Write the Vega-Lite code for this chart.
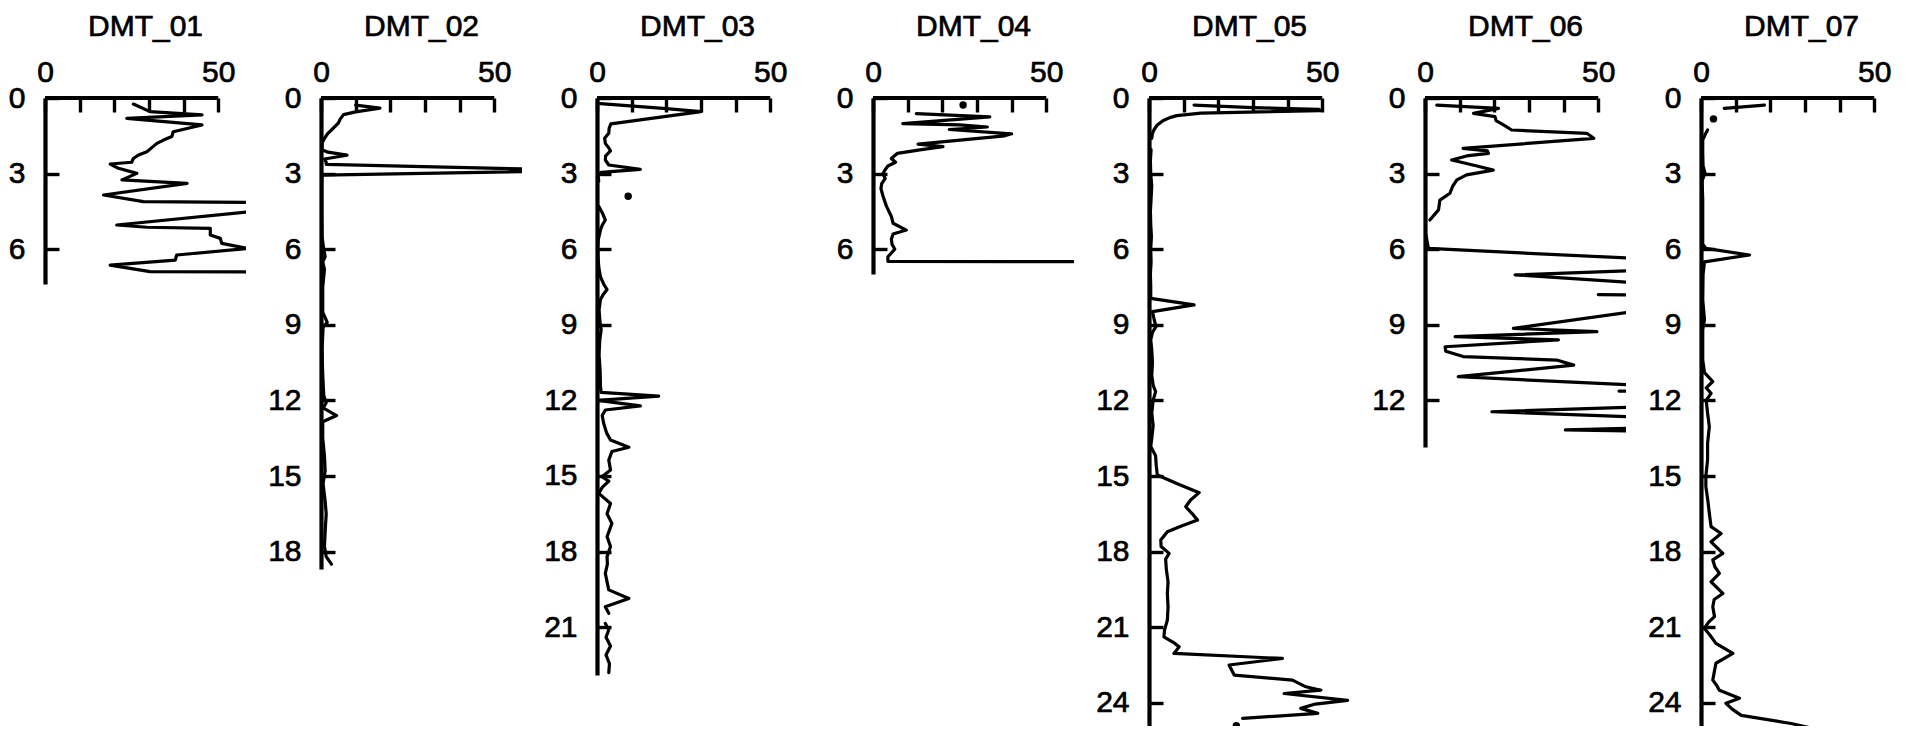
{
  "$schema": "https://vega.github.io/schema/vega-lite/v6.json",
  "autosize": {"type": "pad"},
  "padding": {"left": 8, "top": 11, "right": 0, "bottom": 0},
  "bounds": "flush",
  "spacing": 75,
  "datasets": {
    "profiles": [
      {"core":"DMT_01","depth":0.24,"value":25.5},{"core":"DMT_01","depth":0.54,"value":30.3},{"core":"DMT_01","depth":0.67,"value":45.3},{"core":"DMT_01","depth":0.81,"value":23.6},{"core":"DMT_01","depth":1.07,"value":45.3},{"core":"DMT_01","depth":1.34,"value":37},{"core":"DMT_01","depth":1.53,"value":36.6},{"core":"DMT_01","depth":1.67,"value":34.2},{"core":"DMT_01","depth":1.8,"value":32.3},{"core":"DMT_01","depth":1.95,"value":31},{"core":"DMT_01","depth":2.13,"value":29.4},{"core":"DMT_01","depth":2.26,"value":27},{"core":"DMT_01","depth":2.4,"value":25.5},{"core":"DMT_01","depth":2.55,"value":25},{"core":"DMT_01","depth":2.62,"value":18.8},{"core":"DMT_01","depth":2.79,"value":21.2},{"core":"DMT_01","depth":2.99,"value":26.5},{"core":"DMT_01","depth":3.25,"value":22.2},{"core":"DMT_01","depth":3.39,"value":41},{"core":"DMT_01","depth":3.85,"value":16.9},{"core":"DMT_01","depth":4.11,"value":28.4},{"core":"DMT_01","depth":4.14,"value":60},{"core":"DMT_01","depth":4.5,"value":60},{"core":"DMT_01","depth":5.04,"value":20.7},{"core":"DMT_01","depth":5.13,"value":29.4},{"core":"DMT_01","depth":5.17,"value":47.7},{"core":"DMT_01","depth":5.44,"value":47.7},{"core":"DMT_01","depth":5.57,"value":50.6},{"core":"DMT_01","depth":5.77,"value":51},{"core":"DMT_01","depth":5.97,"value":58.5},{"core":"DMT_01","depth":6.23,"value":38},{"core":"DMT_01","depth":6.43,"value":37.6},{"core":"DMT_01","depth":6.63,"value":18.8},{"core":"DMT_01","depth":6.89,"value":30.3},{"core":"DMT_01","depth":6.9,"value":60},

      {"core":"DMT_02","depth":0.28,"value":10},{"core":"DMT_02","depth":0.4,"value":17},{"core":"DMT_02","depth":0.55,"value":10},{"core":"DMT_02","depth":0.66,"value":6.5},{"core":"DMT_02","depth":0.85,"value":5.5},{"core":"DMT_02","depth":1.0,"value":5},{"core":"DMT_02","depth":1.2,"value":3.5},{"core":"DMT_02","depth":1.4,"value":2},{"core":"DMT_02","depth":1.6,"value":1},{"core":"DMT_02","depth":1.8,"value":0.3},{"core":"DMT_02","depth":2.05,"value":0.3},{"core":"DMT_02","depth":2.15,"value":2},{"core":"DMT_02","depth":2.27,"value":7.5},{"core":"DMT_02","depth":2.42,"value":1},{"core":"DMT_02","depth":2.55,"value":1.5},{"core":"DMT_02","depth":2.63,"value":1.5},{"core":"DMT_02","depth":2.82,"value":60},{"core":"DMT_02","depth":2.92,"value":60},{"core":"DMT_02","depth":3.06,"value":0.3},{"core":"DMT_02","depth":3.5,"value":0.2},{"core":"DMT_02","depth":4.5,"value":0.2},{"core":"DMT_02","depth":5.5,"value":0.3},{"core":"DMT_02","depth":6.0,"value":0.8},{"core":"DMT_02","depth":6.3,"value":1.2},{"core":"DMT_02","depth":6.5,"value":0.5},{"core":"DMT_02","depth":6.8,"value":1},{"core":"DMT_02","depth":7.5,"value":0.5},{"core":"DMT_02","depth":8.5,"value":0.5},{"core":"DMT_02","depth":8.9,"value":1.8},{"core":"DMT_02","depth":9.1,"value":0.6},{"core":"DMT_02","depth":10,"value":0.3},{"core":"DMT_02","depth":11,"value":0.5},{"core":"DMT_02","depth":11.8,"value":0.8},{"core":"DMT_02","depth":12.1,"value":1.5},{"core":"DMT_02","depth":12.3,"value":0.6},{"core":"DMT_02","depth":12.6,"value":4.5},{"core":"DMT_02","depth":12.85,"value":0.5},{"core":"DMT_02","depth":13.5,"value":0.5},{"core":"DMT_02","depth":14.2,"value":1},{"core":"DMT_02","depth":14.8,"value":1.2},{"core":"DMT_02","depth":15.3,"value":0.6},{"core":"DMT_02","depth":16,"value":1.2},{"core":"DMT_02","depth":16.5,"value":1.5},{"core":"DMT_02","depth":17.2,"value":1.2},{"core":"DMT_02","depth":17.8,"value":1},{"core":"DMT_02","depth":18.2,"value":1.5},{"core":"DMT_02","depth":18.5,"value":3},

      {"core":"DMT_03","depth":0.22,"value":1},{"core":"DMT_03","depth":0.42,"value":20},{"core":"DMT_03","depth":0.54,"value":30},{"core":"DMT_03","depth":1.03,"value":4},{"core":"DMT_03","depth":1.2,"value":3.5},{"core":"DMT_03","depth":1.4,"value":3.4},{"core":"DMT_03","depth":1.6,"value":2.2},{"core":"DMT_03","depth":1.8,"value":2.4},{"core":"DMT_03","depth":2.0,"value":3.5},{"core":"DMT_03","depth":2.1,"value":3.9},{"core":"DMT_03","depth":2.3,"value":2.5},{"core":"DMT_03","depth":2.46,"value":2.4},{"core":"DMT_03","depth":2.66,"value":3.4},{"core":"DMT_03","depth":2.83,"value":12.5},{"core":"DMT_03","depth":2.95,"value":1.2},{"core":"DMT_03","depth":3.05,"value":0.3},{"core":"DMT_03","depth":3.3,"value":0.5},{"core":"DMT_03","depth":3.6,"value":null},{"core":"DMT_03","depth":4.3,"value":0.5},{"core":"DMT_03","depth":4.55,"value":1.5},{"core":"DMT_03","depth":4.84,"value":2.4},{"core":"DMT_03","depth":5.05,"value":1.5},{"core":"DMT_03","depth":5.24,"value":1},{"core":"DMT_03","depth":5.6,"value":0.4},{"core":"DMT_03","depth":5.9,"value":0.2},{"core":"DMT_03","depth":6.3,"value":0.3},{"core":"DMT_03","depth":6.7,"value":0.5},{"core":"DMT_03","depth":7.1,"value":1},{"core":"DMT_03","depth":7.4,"value":2},{"core":"DMT_03","depth":7.6,"value":2.9},{"core":"DMT_03","depth":7.8,"value":1.8},{"core":"DMT_03","depth":8.0,"value":1},{"core":"DMT_03","depth":8.4,"value":0.6},{"core":"DMT_03","depth":8.8,"value":0.8},{"core":"DMT_03","depth":9.2,"value":1.2},{"core":"DMT_03","depth":9.6,"value":0.8},{"core":"DMT_03","depth":10.2,"value":0.6},{"core":"DMT_03","depth":10.8,"value":0.9},{"core":"DMT_03","depth":11.45,"value":1},{"core":"DMT_03","depth":11.68,"value":1.2},{"core":"DMT_03","depth":11.83,"value":17.8},{"core":"DMT_03","depth":12.0,"value":0.3},{"core":"DMT_03","depth":12.22,"value":12.5},{"core":"DMT_03","depth":12.38,"value":2.4},{"core":"DMT_03","depth":12.6,"value":1.5},{"core":"DMT_03","depth":12.9,"value":1.9},{"core":"DMT_03","depth":13.3,"value":2.8},{"core":"DMT_03","depth":13.57,"value":3.9},{"core":"DMT_03","depth":13.86,"value":9.2},{"core":"DMT_03","depth":14.03,"value":4.3},{"core":"DMT_03","depth":14.37,"value":3.4},{"core":"DMT_03","depth":14.76,"value":3.9},{"core":"DMT_03","depth":15.03,"value":1.4},{"core":"DMT_03","depth":15.2,"value":3.4},{"core":"DMT_03","depth":15.45,"value":1.5},{"core":"DMT_03","depth":15.69,"value":0.5},{"core":"DMT_03","depth":16.09,"value":3.9},{"core":"DMT_03","depth":16.5,"value":2.9},{"core":"DMT_03","depth":16.88,"value":4.3},{"core":"DMT_03","depth":17.41,"value":2.9},{"core":"DMT_03","depth":17.8,"value":3.9},{"core":"DMT_03","depth":18.2,"value":2.9},{"core":"DMT_03","depth":18.5,"value":3},{"core":"DMT_03","depth":18.86,"value":2.4},{"core":"DMT_03","depth":19.2,"value":2.9},{"core":"DMT_03","depth":19.52,"value":3.4},{"core":"DMT_03","depth":19.86,"value":9.2},{"core":"DMT_03","depth":20.19,"value":2.4},{"core":"DMT_03","depth":20.45,"value":3.4},{"core":"DMT_03","depth":20.65,"value":null},{"core":"DMT_03","depth":20.85,"value":2.4},{"core":"DMT_03","depth":21.1,"value":3.4},{"core":"DMT_03","depth":21.4,"value":2.6},{"core":"DMT_03","depth":21.75,"value":3.9},{"core":"DMT_03","depth":22.1,"value":2.6},{"core":"DMT_03","depth":22.45,"value":3.6},{"core":"DMT_03","depth":22.8,"value":3.4},

      {"core":"DMT_04","depth":0.62,"value":12.5},{"core":"DMT_04","depth":0.75,"value":33.7},{"core":"DMT_04","depth":1.02,"value":8.6},{"core":"DMT_04","depth":1.07,"value":25},{"core":"DMT_04","depth":1.15,"value":33},{"core":"DMT_04","depth":1.25,"value":22},{"core":"DMT_04","depth":1.42,"value":40},{"core":"DMT_04","depth":1.5,"value":38},{"core":"DMT_04","depth":1.83,"value":13},{"core":"DMT_04","depth":1.93,"value":20.2},{"core":"DMT_04","depth":2.05,"value":14},{"core":"DMT_04","depth":2.2,"value":7},{"core":"DMT_04","depth":2.4,"value":5.3},{"core":"DMT_04","depth":2.55,"value":6.5},{"core":"DMT_04","depth":2.7,"value":4.3},{"core":"DMT_04","depth":2.85,"value":3.5},{"core":"DMT_04","depth":3.0,"value":2.9},{"core":"DMT_04","depth":3.2,"value":3.5},{"core":"DMT_04","depth":3.4,"value":2.5},{"core":"DMT_04","depth":3.6,"value":2.3},{"core":"DMT_04","depth":3.9,"value":2.9},{"core":"DMT_04","depth":4.3,"value":3.9},{"core":"DMT_04","depth":4.7,"value":5.3},{"core":"DMT_04","depth":4.97,"value":5.8},{"core":"DMT_04","depth":5.24,"value":9.6},{"core":"DMT_04","depth":5.4,"value":5.8},{"core":"DMT_04","depth":5.6,"value":5.3},{"core":"DMT_04","depth":5.8,"value":5.5},{"core":"DMT_04","depth":6.0,"value":6.3},{"core":"DMT_04","depth":6.3,"value":4.3},{"core":"DMT_04","depth":6.48,"value":4.3},{"core":"DMT_04","depth":6.5,"value":80},

      {"core":"DMT_05","depth":0.28,"value":13},{"core":"DMT_05","depth":0.38,"value":30},{"core":"DMT_05","depth":0.45,"value":49},{"core":"DMT_05","depth":0.5,"value":49.5},{"core":"DMT_05","depth":0.6,"value":15},{"core":"DMT_05","depth":0.7,"value":8},{"core":"DMT_05","depth":0.78,"value":6},{"core":"DMT_05","depth":0.9,"value":4},{"core":"DMT_05","depth":1.07,"value":2.4},{"core":"DMT_05","depth":1.25,"value":1.5},{"core":"DMT_05","depth":1.4,"value":1},{"core":"DMT_05","depth":1.6,"value":0.8},{"core":"DMT_05","depth":1.8,"value":null},{"core":"DMT_05","depth":2.05,"value":0.6},{"core":"DMT_05","depth":2.5,"value":0.4},{"core":"DMT_05","depth":3.0,"value":0.5},{"core":"DMT_05","depth":3.5,"value":0.8},{"core":"DMT_05","depth":4.0,"value":0.6},{"core":"DMT_05","depth":4.5,"value":0.4},{"core":"DMT_05","depth":5.0,"value":0.5},{"core":"DMT_05","depth":5.5,"value":0.7},{"core":"DMT_05","depth":6.0,"value":0.5},{"core":"DMT_05","depth":6.5,"value":0.6},{"core":"DMT_05","depth":7.0,"value":0.4},{"core":"DMT_05","depth":7.5,"value":0.5},{"core":"DMT_05","depth":7.95,"value":0.5},{"core":"DMT_05","depth":8.21,"value":13},{"core":"DMT_05","depth":8.48,"value":1},{"core":"DMT_05","depth":8.8,"value":1.5},{"core":"DMT_05","depth":9.07,"value":2},{"core":"DMT_05","depth":9.3,"value":1},{"core":"DMT_05","depth":9.6,"value":0.5},{"core":"DMT_05","depth":10.0,"value":0.8},{"core":"DMT_05","depth":10.5,"value":1},{"core":"DMT_05","depth":11.0,"value":0.8},{"core":"DMT_05","depth":11.4,"value":1.2},{"core":"DMT_05","depth":11.65,"value":1.9},{"core":"DMT_05","depth":12.0,"value":1.2},{"core":"DMT_05","depth":12.5,"value":0.8},{"core":"DMT_05","depth":13.0,"value":1.2},{"core":"DMT_05","depth":13.5,"value":0.8},{"core":"DMT_05","depth":13.83,"value":0.5},{"core":"DMT_05","depth":14.2,"value":1.9},{"core":"DMT_05","depth":14.6,"value":2.1},{"core":"DMT_05","depth":14.96,"value":2.4},{"core":"DMT_05","depth":15.3,"value":8},{"core":"DMT_05","depth":15.66,"value":14.5},{"core":"DMT_05","depth":15.95,"value":12},{"core":"DMT_05","depth":16.22,"value":10.6},{"core":"DMT_05","depth":16.5,"value":12.5},{"core":"DMT_05","depth":16.75,"value":14},{"core":"DMT_05","depth":17.0,"value":9},{"core":"DMT_05","depth":17.21,"value":5.3},{"core":"DMT_05","depth":17.54,"value":3.4},{"core":"DMT_05","depth":17.8,"value":3.5},{"core":"DMT_05","depth":18.07,"value":5.8},{"core":"DMT_05","depth":18.3,"value":4.8},{"core":"DMT_05","depth":18.7,"value":5},{"core":"DMT_05","depth":19.2,"value":5.5},{"core":"DMT_05","depth":19.66,"value":5.3},{"core":"DMT_05","depth":20.2,"value":5.5},{"core":"DMT_05","depth":20.72,"value":5.3},{"core":"DMT_05","depth":21.1,"value":4.5},{"core":"DMT_05","depth":21.38,"value":4.3},{"core":"DMT_05","depth":21.6,"value":7},{"core":"DMT_05","depth":21.78,"value":8.7},{"core":"DMT_05","depth":22.04,"value":7.2},{"core":"DMT_05","depth":22.24,"value":38.5},{"core":"DMT_05","depth":22.5,"value":23.1},{"core":"DMT_05","depth":22.9,"value":24.6},{"core":"DMT_05","depth":23.1,"value":41.4},{"core":"DMT_05","depth":23.35,"value":45},{"core":"DMT_05","depth":23.5,"value":49.6},{"core":"DMT_05","depth":23.63,"value":39},{"core":"DMT_05","depth":23.9,"value":57.3},{"core":"DMT_05","depth":24.05,"value":48},{"core":"DMT_05","depth":24.22,"value":43.8},{"core":"DMT_05","depth":24.42,"value":48.7},{"core":"DMT_05","depth":24.62,"value":27},{"core":"DMT_05","depth":24.75,"value":null},

      {"core":"DMT_06","depth":0.28,"value":3.4},{"core":"DMT_06","depth":0.41,"value":21.2},{"core":"DMT_06","depth":0.61,"value":14},{"core":"DMT_06","depth":0.74,"value":20.2},{"core":"DMT_06","depth":0.9,"value":20.5},{"core":"DMT_06","depth":1.1,"value":23},{"core":"DMT_06","depth":1.27,"value":25},{"core":"DMT_06","depth":1.4,"value":46.7},{"core":"DMT_06","depth":1.6,"value":48.7},{"core":"DMT_06","depth":2.0,"value":11},{"core":"DMT_06","depth":2.1,"value":18},{"core":"DMT_06","depth":2.2,"value":18.3},{"core":"DMT_06","depth":2.3,"value":12},{"core":"DMT_06","depth":2.46,"value":7.7},{"core":"DMT_06","depth":2.7,"value":15},{"core":"DMT_06","depth":2.86,"value":19.7},{"core":"DMT_06","depth":3.05,"value":12},{"core":"DMT_06","depth":3.25,"value":9.2},{"core":"DMT_06","depth":3.5,"value":8},{"core":"DMT_06","depth":3.78,"value":7.2},{"core":"DMT_06","depth":4.05,"value":4.3},{"core":"DMT_06","depth":4.44,"value":3.9},{"core":"DMT_06","depth":4.84,"value":1.4},{"core":"DMT_06","depth":5.1,"value":null},{"core":"DMT_06","depth":5.4,"value":0.2},{"core":"DMT_06","depth":5.97,"value":1},{"core":"DMT_06","depth":6.36,"value":60},{"core":"DMT_06","depth":6.85,"value":60},{"core":"DMT_06","depth":7.02,"value":26},{"core":"DMT_06","depth":7.32,"value":60},{"core":"DMT_06","depth":7.6,"value":null},{"core":"DMT_06","depth":7.8,"value":50},{"core":"DMT_06","depth":7.86,"value":90},{"core":"DMT_06","depth":8.1,"value":null},{"core":"DMT_06","depth":8.48,"value":60},{"core":"DMT_06","depth":9.14,"value":25.5},{"core":"DMT_06","depth":9.27,"value":49.6},{"core":"DMT_06","depth":9.47,"value":8.7},{"core":"DMT_06","depth":9.6,"value":38.5},{"core":"DMT_06","depth":9.87,"value":5.8},{"core":"DMT_06","depth":10.05,"value":6},{"core":"DMT_06","depth":10.26,"value":11},{"core":"DMT_06","depth":10.4,"value":38},{"core":"DMT_06","depth":10.6,"value":42.9},{"core":"DMT_06","depth":11.06,"value":9.6},{"core":"DMT_06","depth":11.39,"value":60},{"core":"DMT_06","depth":11.5,"value":null},{"core":"DMT_06","depth":11.63,"value":56},{"core":"DMT_06","depth":11.68,"value":90},{"core":"DMT_06","depth":11.9,"value":null},{"core":"DMT_06","depth":12.27,"value":60},{"core":"DMT_06","depth":12.45,"value":19.3},{"core":"DMT_06","depth":12.65,"value":60},{"core":"DMT_06","depth":12.85,"value":null},{"core":"DMT_06","depth":13.1,"value":60},{"core":"DMT_06","depth":13.17,"value":40.5},{"core":"DMT_06","depth":13.22,"value":60},

      {"core":"DMT_07","depth":0.28,"value":18.3},{"core":"DMT_07","depth":0.41,"value":6.7},{"core":"DMT_07","depth":0.6,"value":null},{"core":"DMT_07","depth":1.27,"value":1.9},{"core":"DMT_07","depth":1.45,"value":1.2},{"core":"DMT_07","depth":1.67,"value":0.5},{"core":"DMT_07","depth":2.2,"value":0.5},{"core":"DMT_07","depth":2.7,"value":0.6},{"core":"DMT_07","depth":3.0,"value":1.2},{"core":"DMT_07","depth":3.1,"value":0.8},{"core":"DMT_07","depth":3.3,"value":0.3},{"core":"DMT_07","depth":4.0,"value":0.5},{"core":"DMT_07","depth":5.0,"value":0.5},{"core":"DMT_07","depth":5.8,"value":0.5},{"core":"DMT_07","depth":5.97,"value":1.4},{"core":"DMT_07","depth":6.23,"value":14},{"core":"DMT_07","depth":6.5,"value":1},{"core":"DMT_07","depth":7.0,"value":0.6},{"core":"DMT_07","depth":8.0,"value":0.5},{"core":"DMT_07","depth":8.8,"value":1},{"core":"DMT_07","depth":9.2,"value":0.5},{"core":"DMT_07","depth":10.4,"value":0.5},{"core":"DMT_07","depth":10.9,"value":1},{"core":"DMT_07","depth":11.25,"value":3.4},{"core":"DMT_07","depth":11.5,"value":1.5},{"core":"DMT_07","depth":11.72,"value":2.9},{"core":"DMT_07","depth":12.0,"value":1.5},{"core":"DMT_07","depth":12.5,"value":1.9},{"core":"DMT_07","depth":13.04,"value":2.4},{"core":"DMT_07","depth":13.7,"value":1.9},{"core":"DMT_07","depth":14.36,"value":1.9},{"core":"DMT_07","depth":15.0,"value":1.4},{"core":"DMT_07","depth":15.42,"value":1.4},{"core":"DMT_07","depth":16.0,"value":2},{"core":"DMT_07","depth":16.48,"value":2.4},{"core":"DMT_07","depth":17.01,"value":2.9},{"core":"DMT_07","depth":17.28,"value":5.8},{"core":"DMT_07","depth":17.61,"value":2.9},{"core":"DMT_07","depth":18.07,"value":6.3},{"core":"DMT_07","depth":18.33,"value":3.4},{"core":"DMT_07","depth":18.6,"value":4},{"core":"DMT_07","depth":18.86,"value":5.3},{"core":"DMT_07","depth":19.2,"value":2.9},{"core":"DMT_07","depth":19.66,"value":6.3},{"core":"DMT_07","depth":19.9,"value":3.8},{"core":"DMT_07","depth":20.19,"value":3.4},{"core":"DMT_07","depth":20.58,"value":3.9},{"core":"DMT_07","depth":20.8,"value":2.2},{"core":"DMT_07","depth":21.05,"value":1},{"core":"DMT_07","depth":21.3,"value":2.5},{"core":"DMT_07","depth":21.64,"value":4.3},{"core":"DMT_07","depth":22.04,"value":9.2},{"core":"DMT_07","depth":22.43,"value":4.3},{"core":"DMT_07","depth":22.8,"value":3.8},{"core":"DMT_07","depth":23.1,"value":3.4},{"core":"DMT_07","depth":23.3,"value":4.5},{"core":"DMT_07","depth":23.5,"value":5.3},{"core":"DMT_07","depth":23.82,"value":11.1},{"core":"DMT_07","depth":24.02,"value":7.2},{"core":"DMT_07","depth":24.25,"value":9},{"core":"DMT_07","depth":24.5,"value":11.6},{"core":"DMT_07","depth":24.82,"value":26},{"core":"DMT_07","depth":25.1,"value":35}
    ],
    "dots": [
      {"core":"DMT_03","depth":3.9,"value":9},
      {"core":"DMT_04","depth":0.28,"value":26},
      {"core":"DMT_05","depth":24.91,"value":25.2},
      {"core":"DMT_07","depth":0.83,"value":3.6}
    ],
    "frame": [{"edge":"top"}]
  },
  "data": {"name": "profiles"},
  "hconcat": [
    {"title": "DMT_01", "width": 201, "height": 186, "layer": [
      {"transform": [{"filter": "datum.core == 'DMT_01'"}], "mark": {"type": "line", "color": "black", "strokeWidth": 3.2, "clip": true, "invalid": "break-paths-show-domains", "strokeJoin": "round", "strokeCap": "round"},
       "encoding": {"x": {"field": "value", "type": "quantitative", "scale": {"domain": [0, 58], "nice": false, "zero": false}, "axis": {"orient": "top", "values": [0,10,20,30,40,50], "labelExpr": "datum.value == 0 || datum.value == 50 ? datum.label : ''", "domain": false, "title": null, "labelPadding": 31, "labelBaseline": "alphabetic"}},
                    "y": {"field": "depth", "type": "quantitative", "scale": {"domain": [0, 7.381], "nice": false, "zero": false, "reverse": true}, "axis": {"values": [0,3,6], "title": null, "labelPadding": 34}},
                    "order": {"field": "depth", "type": "quantitative"}}},
      {"data": {"name": "frame"}, "mark": {"type": "rule", "color": "black", "strokeWidth": 4.2}, "encoding": {"x": {"datum": 0}, "x2": {"datum": 50}, "y": {"datum": 0}}}
    ]},
    {"title": "DMT_02", "width": 201, "height": 471, "layer": [
      {"transform": [{"filter": "datum.core == 'DMT_02'"}], "mark": {"type": "line", "color": "black", "strokeWidth": 3.2, "clip": true, "invalid": "break-paths-show-domains", "strokeJoin": "round", "strokeCap": "round"},
       "encoding": {"x": {"field": "value", "type": "quantitative", "scale": {"domain": [0, 58], "nice": false, "zero": false}, "axis": {"orient": "top", "values": [0,10,20,30,40,50], "labelExpr": "datum.value == 0 || datum.value == 50 ? datum.label : ''", "domain": false, "title": null, "labelPadding": 31, "labelBaseline": "alphabetic"}},
                    "y": {"field": "depth", "type": "quantitative", "scale": {"domain": [0, 18.69], "nice": false, "zero": false, "reverse": true}, "axis": {"values": [0,3,6,9,12,15,18], "title": null, "labelPadding": 34}},
                    "order": {"field": "depth", "type": "quantitative"}}},
      {"data": {"name": "frame"}, "mark": {"type": "rule", "color": "black", "strokeWidth": 4.2}, "encoding": {"x": {"datum": 0}, "x2": {"datum": 50}, "y": {"datum": 0}}}
    ]},
    {"title": "DMT_03", "width": 201, "height": 577, "layer": [
      {"transform": [{"filter": "datum.core == 'DMT_03'"}], "mark": {"type": "line", "color": "black", "strokeWidth": 3.2, "clip": true, "invalid": "break-paths-show-domains", "strokeJoin": "round", "strokeCap": "round"},
       "encoding": {"x": {"field": "value", "type": "quantitative", "scale": {"domain": [0, 58], "nice": false, "zero": false}, "axis": {"orient": "top", "values": [0,10,20,30,40,50], "labelExpr": "datum.value == 0 || datum.value == 50 ? datum.label : ''", "domain": false, "title": null, "labelPadding": 31, "labelBaseline": "alphabetic"}},
                    "y": {"field": "depth", "type": "quantitative", "scale": {"domain": [0, 22.897], "nice": false, "zero": false, "reverse": true}, "axis": {"values": [0,3,6,9,12,15,18,21], "title": null, "labelPadding": 34}},
                    "order": {"field": "depth", "type": "quantitative"}}},
      {"data": {"name": "dots"}, "transform": [{"filter": "datum.core == 'DMT_03'"}], "mark": {"type": "point", "filled": true, "color": "black", "opacity": 1, "size": 55, "clip": true}, "encoding": {"x": {"field": "value", "type": "quantitative"}, "y": {"field": "depth", "type": "quantitative"}}},
      {"data": {"name": "frame"}, "mark": {"type": "rule", "color": "black", "strokeWidth": 4.2}, "encoding": {"x": {"datum": 0}, "x2": {"datum": 50}, "y": {"datum": 0}}}
    ]},
    {"title": "DMT_04", "width": 201, "height": 176, "layer": [
      {"transform": [{"filter": "datum.core == 'DMT_04'"}], "mark": {"type": "line", "color": "black", "strokeWidth": 3.2, "clip": true, "invalid": "break-paths-show-domains", "strokeJoin": "round", "strokeCap": "round"},
       "encoding": {"x": {"field": "value", "type": "quantitative", "scale": {"domain": [0, 58], "nice": false, "zero": false}, "axis": {"orient": "top", "values": [0,10,20,30,40,50], "labelExpr": "datum.value == 0 || datum.value == 50 ? datum.label : ''", "domain": false, "title": null, "labelPadding": 31, "labelBaseline": "alphabetic"}},
                    "y": {"field": "depth", "type": "quantitative", "scale": {"domain": [0, 6.984], "nice": false, "zero": false, "reverse": true}, "axis": {"values": [0,3,6], "title": null, "labelPadding": 34}},
                    "order": {"field": "depth", "type": "quantitative"}}},
      {"data": {"name": "dots"}, "transform": [{"filter": "datum.core == 'DMT_04'"}], "mark": {"type": "point", "filled": true, "color": "black", "opacity": 1, "size": 55, "clip": true}, "encoding": {"x": {"field": "value", "type": "quantitative"}, "y": {"field": "depth", "type": "quantitative"}}},
      {"data": {"name": "frame"}, "mark": {"type": "rule", "color": "black", "strokeWidth": 4.2}, "encoding": {"x": {"datum": 0}, "x2": {"datum": 50}, "y": {"datum": 0}}}
    ]},
    {"title": "DMT_05", "width": 201, "height": 628, "layer": [
      {"transform": [{"filter": "datum.core == 'DMT_05'"}], "mark": {"type": "line", "color": "black", "strokeWidth": 3.2, "clip": true, "invalid": "break-paths-show-domains", "strokeJoin": "round", "strokeCap": "round"},
       "encoding": {"x": {"field": "value", "type": "quantitative", "scale": {"domain": [0, 58], "nice": false, "zero": false}, "axis": {"orient": "top", "values": [0,10,20,30,40,50], "labelExpr": "datum.value == 0 || datum.value == 50 ? datum.label : ''", "domain": false, "title": null, "labelPadding": 31, "labelBaseline": "alphabetic"}},
                    "y": {"field": "depth", "type": "quantitative", "scale": {"domain": [0, 24.92], "nice": false, "zero": false, "reverse": true}, "axis": {"values": [0,3,6,9,12,15,18,21,24], "title": null, "labelPadding": 34}},
                    "order": {"field": "depth", "type": "quantitative"}}},
      {"data": {"name": "dots"}, "transform": [{"filter": "datum.core == 'DMT_05'"}], "mark": {"type": "point", "filled": true, "color": "black", "opacity": 1, "size": 55, "clip": true}, "encoding": {"x": {"field": "value", "type": "quantitative"}, "y": {"field": "depth", "type": "quantitative"}}},
      {"data": {"name": "frame"}, "mark": {"type": "rule", "color": "black", "strokeWidth": 4.2}, "encoding": {"x": {"datum": 0}, "x2": {"datum": 50}, "y": {"datum": 0}}}
    ]},
    {"title": "DMT_06", "width": 201, "height": 349, "layer": [
      {"transform": [{"filter": "datum.core == 'DMT_06'"}], "mark": {"type": "line", "color": "black", "strokeWidth": 3.2, "clip": true, "invalid": "break-paths-show-domains", "strokeJoin": "round", "strokeCap": "round"},
       "encoding": {"x": {"field": "value", "type": "quantitative", "scale": {"domain": [0, 58], "nice": false, "zero": false}, "axis": {"orient": "top", "values": [0,10,20,30,40,50], "labelExpr": "datum.value == 0 || datum.value == 50 ? datum.label : ''", "domain": false, "title": null, "labelPadding": 31, "labelBaseline": "alphabetic"}},
                    "y": {"field": "depth", "type": "quantitative", "scale": {"domain": [0, 13.849], "nice": false, "zero": false, "reverse": true}, "axis": {"values": [0,3,6,9,12], "title": null, "labelPadding": 34}},
                    "order": {"field": "depth", "type": "quantitative"}}},
      {"data": {"name": "frame"}, "mark": {"type": "rule", "color": "black", "strokeWidth": 4.2}, "encoding": {"x": {"datum": 0}, "x2": {"datum": 50}, "y": {"datum": 0}}}
    ]},
    {"title": "DMT_07", "width": 201, "height": 628, "layer": [
      {"transform": [{"filter": "datum.core == 'DMT_07'"}], "mark": {"type": "line", "color": "black", "strokeWidth": 3.2, "clip": true, "invalid": "break-paths-show-domains", "strokeJoin": "round", "strokeCap": "round"},
       "encoding": {"x": {"field": "value", "type": "quantitative", "scale": {"domain": [0, 58], "nice": false, "zero": false}, "axis": {"orient": "top", "values": [0,10,20,30,40,50], "labelExpr": "datum.value == 0 || datum.value == 50 ? datum.label : ''", "domain": false, "title": null, "labelPadding": 31, "labelBaseline": "alphabetic"}},
                    "y": {"field": "depth", "type": "quantitative", "scale": {"domain": [0, 24.92], "nice": false, "zero": false, "reverse": true}, "axis": {"values": [0,3,6,9,12,15,18,21,24], "title": null, "labelPadding": 34}},
                    "order": {"field": "depth", "type": "quantitative"}}},
      {"data": {"name": "dots"}, "transform": [{"filter": "datum.core == 'DMT_07'"}], "mark": {"type": "point", "filled": true, "color": "black", "opacity": 1, "size": 55, "clip": true}, "encoding": {"x": {"field": "value", "type": "quantitative"}, "y": {"field": "depth", "type": "quantitative"}}},
      {"data": {"name": "frame"}, "mark": {"type": "rule", "color": "black", "strokeWidth": 4.2}, "encoding": {"x": {"datum": 0}, "x2": {"datum": 50}, "y": {"datum": 0}}}
    ]}
  ],
  "config": {
    "font": "Liberation Sans",
    "background": "white",
    "view": {"stroke": null},
    "axis": {"grid": false, "domainColor": "black", "domainWidth": 4.2, "tickColor": "black", "tickWidth": 3.4, "tickSize": -14, "labelFont": "Liberation Sans", "labelFontSize": 30, "labelColor": "black", "labelFlush": false, "labelOverlap": false},
    "title": {"font": "Liberation Sans", "fontSize": 30, "fontWeight": "normal", "color": "black", "anchor": "middle", "frame": "group", "offset": 15.5},
    "style": {
      "guide-label": {"stroke": "black", "strokeWidth": 0.7},
      "group-title": {"stroke": "black", "strokeWidth": 0.7}
    }
  }
}
